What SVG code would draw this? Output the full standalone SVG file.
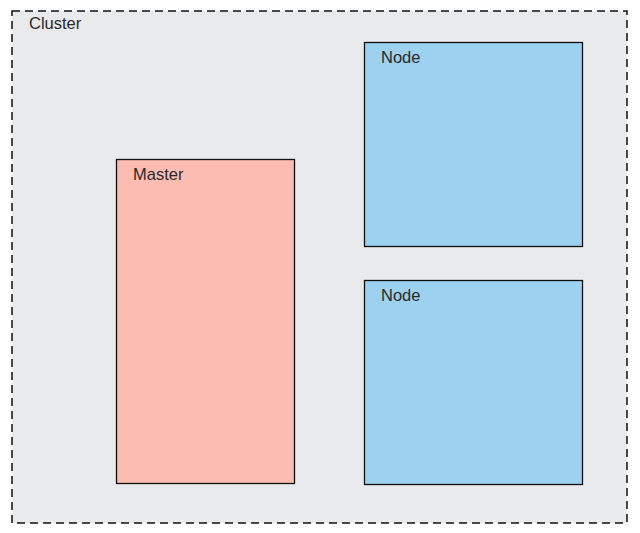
<svg xmlns="http://www.w3.org/2000/svg" width="640" height="533" viewBox="0 0 640 533">
<style>
.lbl{font-family:"Liberation Sans",Arial,sans-serif;font-size:16.5px;fill:#2a2a2a;}
.box{stroke:#111;stroke-width:1.3;}
</style>
<rect width="640" height="533" fill="#ffffff"/>
<g id="cluster">
<rect x="12" y="11" width="615" height="512" fill="#e8eaec" stroke="#111" stroke-width="1.5" stroke-dasharray="8,5"/>
<text class="lbl" x="29" y="29">Cluster</text>
</g>
<g id="master">
<rect class="box" x="116.5" y="159.5" width="178" height="324" fill="#fdbcb2"/>
<text class="lbl" x="133" y="180">Master</text>
</g>
<g id="node1">
<rect class="box" x="364.5" y="42.5" width="218" height="204" fill="#9cd1ef"/>
<text class="lbl" x="381" y="63">Node</text>
</g>
<g id="node2">
<rect class="box" x="364.5" y="280.5" width="218" height="204" fill="#9cd1ef"/>
<text class="lbl" x="381" y="301">Node</text>
</g>
<g id="connectors"></g>
</svg>
